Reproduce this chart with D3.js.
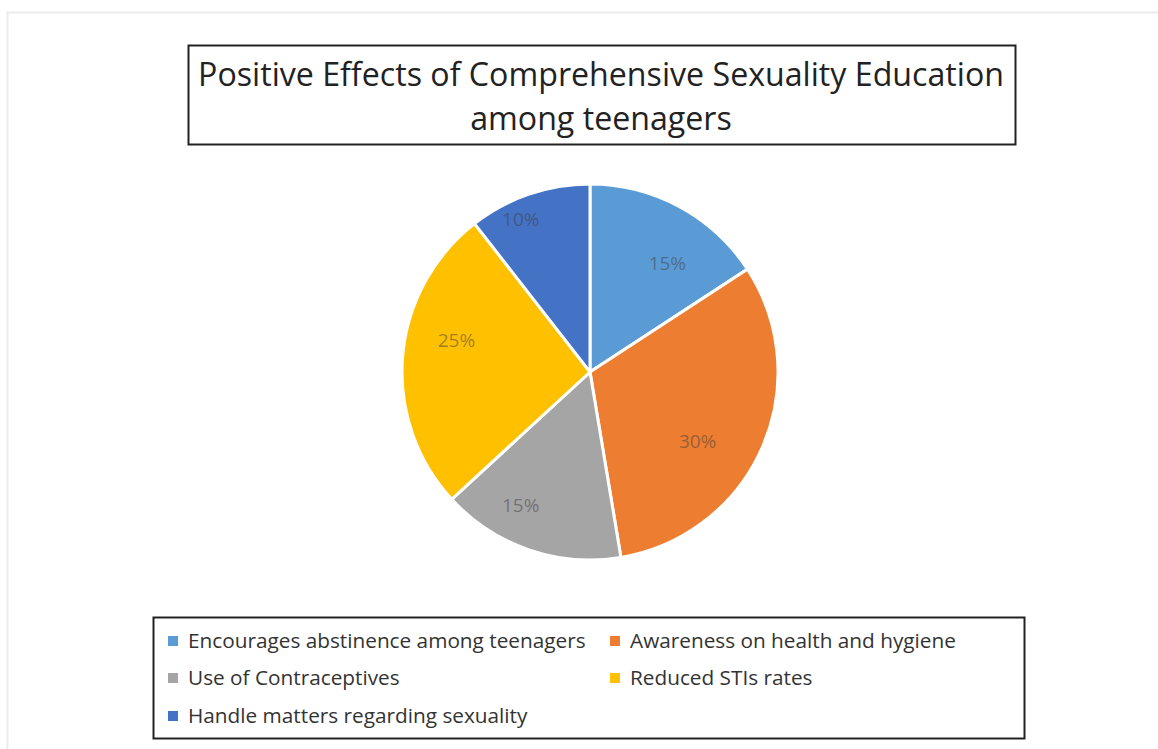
<!DOCTYPE html>
<html>
<head>
<meta charset="utf-8">
<script src="https://cdn.jsdelivr.net/npm/d3@7"></script>
<style>
  body { margin: 0; background: #fff; }
  text { font-family: "Open Sans", "Noto Sans", sans-serif; }
</style>
</head>
<body>
<div id="chart"></div>
<script>
// chart data
var categories = [
  "Encourages abstinence among teenagers",
  "Awareness on health and hygiene",
  "Use of Contraceptives",
  "Reduced STIs rates",
  "Handle matters regarding sexuality"
];
var values = [15, 30, 15, 25, 10];
var labels = ["15%", "30%", "15%", "25%", "10%"];
var colors = ["#5B9BD5", "#ED7D31", "#A5A5A5", "#FFC000", "#4472C4"];
var titleLines = ["Positive Effects of Comprehensive Sexuality Education", "among teenagers"];

// label placement (best-fit style): angle shift in degrees, radius fraction
var labelShift = [7, 9, 8.5, 8.5, -5.5];
var labelRadius = [0.71, 0.68, 0.80, 0.73, 0.89];

var svgWidth = 1158;
var svgHeight = 749;

var svg = d3.select("#chart")
  .append("svg")
  .attr("width", svgWidth)
  .attr("height", svgHeight);

// faint outer frame
svg.append("rect")
  .attr("x", 7.5).attr("y", 12.5)
  .attr("width", 1160).attr("height", 760)
  .attr("fill", "none")
  .attr("stroke", "#ececec")
  .attr("stroke-width", 2);

// title box
svg.append("rect")
  .attr("x", 188.5).attr("y", 45.5)
  .attr("width", 827).attr("height", 99)
  .attr("fill", "#fff")
  .attr("stroke", "#222")
  .attr("stroke-width", 2);

var title = svg.append("g");
titleLines.forEach(function(t, i) {
  title.append("text")
    .attr("x", 601)
    .attr("y", 86 + i * 44)
    .attr("text-anchor", "middle")
    .attr("font-size", 34)
    .attr("fill", "#222")
    .text(t);
});
// fit title width to the reference (about 806px for the first line)
var tw = title.select("text").node().getComputedTextLength();
title.selectAll("text").attr("font-size", 34 * 806 / tw);

// pie
var cx = 590, cy = 372, radius = 188;
var pie = d3.pie().sort(null).value(d => d);
var arc = d3.arc().innerRadius(0).outerRadius(radius);

var pieGroup = svg.append("g")
  .attr("transform", `translate(${cx}, ${cy})`);

var slices = pieGroup.selectAll("g").data(pie(values)).enter().append("g");
slices.append("path")
  .attr("d", arc)
  .attr("fill", (d, i) => colors[i])
  .attr("stroke", "#fff")
  .attr("stroke-width", 3);
slices.append("text")
  .attr("transform", function(d, i) {
    var a = (d.startAngle + d.endAngle) / 2 + labelShift[i] * Math.PI / 180;
    var r = radius * labelRadius[i];
    return `translate(${r * Math.sin(a)}, ${-r * Math.cos(a)})`;
  })
  .attr("text-anchor", "middle")
  .attr("dy", "0.35em")
  .attr("font-size", 19)
  .attr("fill", "#404040")
  .attr("fill-opacity", 0.5)
  .text((d, i) => labels[i]);

// legend box
svg.append("rect")
  .attr("x", 153.5).attr("y", 617.5)
  .attr("width", 871).attr("height", 121)
  .attr("fill", "#fff")
  .attr("stroke", "#222")
  .attr("stroke-width", 2);

var legendX = [168, 610];
var legendY = [641, 678, 716];
var legend = svg.append("g");
categories.forEach(function(c, i) {
  var col = i % 2, row = Math.floor(i / 2);
  var g = legend.append("g")
    .attr("transform", `translate(${legendX[col]}, ${legendY[row]})`);
  g.append("rect")
    .attr("x", 0).attr("y", -5)
    .attr("width", 10).attr("height", 10)
    .attr("fill", colors[i]);
  g.append("text")
    .attr("class", "legText")
    .attr("x", 20)
    .attr("dy", "0.35em")
    .attr("font-size", 19)
    .attr("fill", "#333")
    .text(c);
});
// fit legend text (first entry spans about 398px)
var lw = legend.select(".legText").node().getComputedTextLength();
legend.selectAll(".legText").attr("font-size", 19 * 398 / lw);
</script>
</body>
</html>
